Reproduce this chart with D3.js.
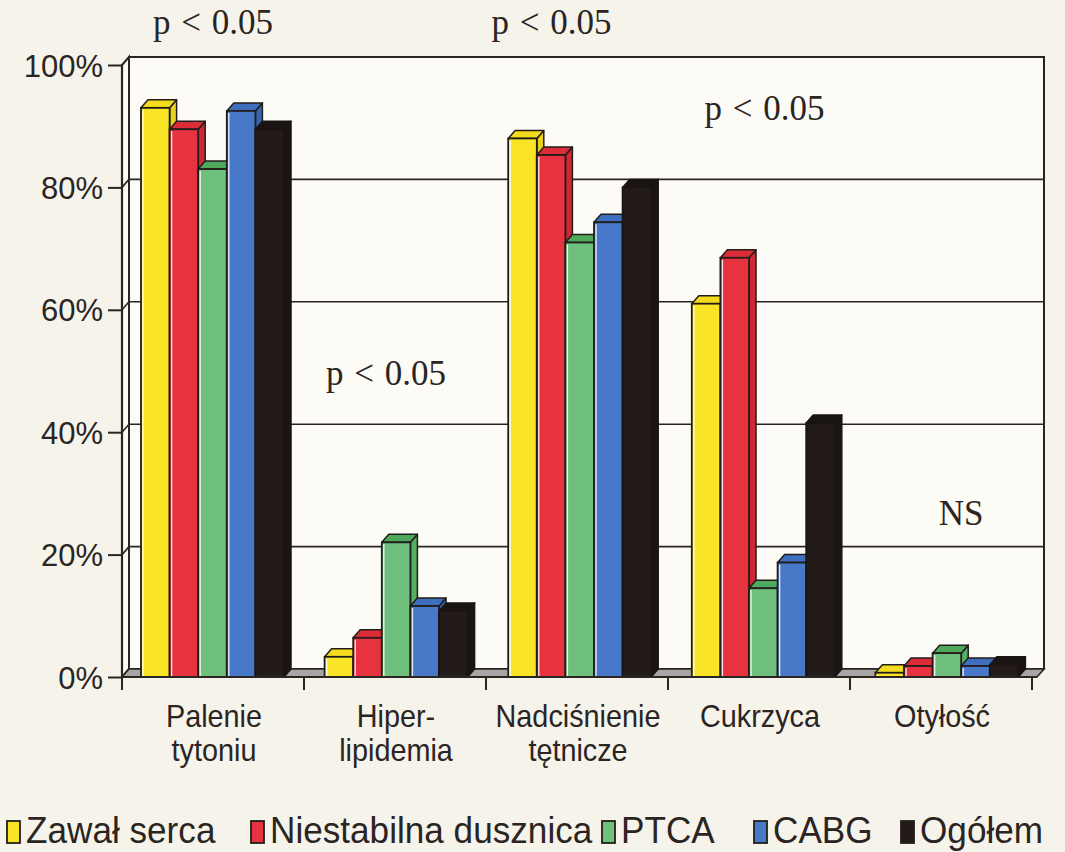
<!DOCTYPE html>
<html>
<head>
<meta charset="utf-8">
<script src="https://cdn.jsdelivr.net/npm/d3@7/dist/d3.min.js"></script>
<style>
  html, body { margin: 0; padding: 0; background: #f6f3eb; }
  svg { display: block; }
</style>
</head>
<body>
<svg id="chart" width="1065" height="852"></svg>
<script>
// Risk factors by patient group (percent of patients)
const categories = [["Palenie", "tytoniu"], ["Hiper-", "lipidemia"], ["Nadciśnienie", "tętnicze"], ["Cukrzyca"], ["Otyłość"]];
const seriesNames = ["Zawał serca", "Niestabilna dusznica", "PTCA", "CABG", "Ogółem"];
const zawal       = [93, 3.3, 88, 61, 0.7];
const niestabilna = [89.5, 6.4, 85.3, 68.5, 1.8];
const ptca        = [83, 22, 71, 14.5, 3.9];
const cabg        = [92.5, 11.6, 74.3, 18.7, 1.8];
const ogolem      = [89.5, 10.8, 80, 41.5, 2.0];
const seriesValues = [zawal, niestabilna, ptca, cabg, ogolem];
const yTicks = [0, 20, 40, 60, 80, 100];
const tickLabels = ["0%", "20%", "40%", "60%", "80%", "100%"];
// significance notes: position along the category axis (in category units) and value height
const significance = [
  { text: "p < 0.05", cat: 0.0, v: 105 },
  { text: "p < 0.05", cat: 1.86, v: 105 },
  { text: "p < 0.05", cat: 3.03, v: 91 },
  { text: "p < 0.05", cat: 0.95, v: 47.7 },
  { text: "NS", cat: 4.11, v: 24.8 }
];

const colors = ["#f9e526", "#e7333f", "#6fc07c", "#4879c9", "#221b19"];
const topColors = ["#f3dc1e", "#dc2c38", "#4fa95d", "#3e6fbf", "#1a1412"];
const sideColors = ["#e8d11c", "#d02734", "#55ae63", "#3766b3", "#1a1412"];

const svg = d3.select("#chart");
const dx = 7, dy = -8;           // depth offset of the 3D box
const x0 = 122, x1 = 1032, xEnd = 1037;
const ink = "#2a2522";
const yScale = d3.scaleLinear().domain([0, 100]).range([677, 65]);
const xCat = d3.scaleBand().domain(d3.range(categories.length)).range([x0, x1]);
const xGroup = d3.scaleBand().domain(d3.range(categories.length)).range([x0, 1040]);
const barW = 28.6, barOffset = 19;

const g = svg.append("g");

// back wall
g.append("rect")
  .attr("x", x0 + dx).attr("y", yScale(100) + dy)
  .attr("width", xEnd - x0).attr("height", yScale(0) - yScale(100))
  .attr("fill", "#fcfbf6").attr("stroke", ink).attr("stroke-width", 2);
// left side wall
g.append("path")
  .attr("d", `M${x0},${yScale(0)}L${x0},${yScale(100)}L${x0 + dx},${yScale(100) + dy}L${x0 + dx},${yScale(0) + dy}Z`)
  .attr("fill", "#fcfbf6").attr("stroke", ink).attr("stroke-width", 2);

// gridlines on the walls
yTicks.slice(1, -1).forEach(t => {
  const y = yScale(t);
  g.append("path")
    .attr("d", `M${x0},${y}L${x0 + dx},${y + dy}L${xEnd + dx},${y + dy}`)
    .attr("fill", "none").attr("stroke", ink).attr("stroke-width", 1.6);
});

// floor
g.append("path")
  .attr("d", `M${x0},${yScale(0)}L${xEnd},${yScale(0)}L${xEnd + dx},${yScale(0) + dy}L${x0 + dx},${yScale(0) + dy}Z`)
  .attr("fill", "#a8a6a4").attr("stroke", ink).attr("stroke-width", 1.6);

// y axis
const yAxis = d3.axisLeft(yScale).tickValues(yTicks).tickSize(14).tickPadding(5)
  .tickFormat((d, i) => tickLabels[i]);
const ya = g.append("g").attr("transform", `translate(${x0},0)`).call(yAxis);
ya.select(".domain").attr("stroke", ink).attr("stroke-width", 2.2).attr("d", `M0,${yScale(0)}V${yScale(100)}`);
ya.selectAll(".tick line").attr("stroke", ink).attr("stroke-width", 2);
ya.selectAll(".tick text")
  .attr("font-family", "'Liberation Sans', Arial, sans-serif")
  .attr("font-size", 31).attr("fill", ink).attr("dy", "0.36em");

// bars, drawn left to right so each bar hides its neighbour's side face
categories.forEach((c, ci) => {
  seriesValues.forEach((vals, si) => {
    const v = vals[ci];
    const xb = xGroup(ci) + barOffset + si * barW;
    const yt = yScale(v), yb = yScale(0);
    const stroke = si === 4 ? "#1a1412" : "#221d1a";
    const bar = g.append("g");
    bar.append("path")
      .attr("d", `M${xb + barW},${yt}L${xb + barW + dx},${yt + dy}L${xb + barW + dx},${yb + dy}L${xb + barW},${yb}Z`)
      .attr("fill", sideColors[si]).attr("stroke", stroke).attr("stroke-width", 1.5).attr("stroke-linejoin", "round");
    bar.append("path")
      .attr("d", `M${xb},${yt}L${xb + barW},${yt}L${xb + barW + dx},${yt + dy}L${xb + dx},${yt + dy}Z`)
      .attr("fill", topColors[si]).attr("stroke", stroke).attr("stroke-width", 1.5).attr("stroke-linejoin", "round");
    bar.append("rect")
      .attr("x", xb).attr("y", yt).attr("width", barW).attr("height", yb - yt)
      .attr("fill", colors[si]).attr("stroke", stroke).attr("stroke-width", 1.8);
    if (si !== 4 && yb - yt > 4) {
      bar.append("line")
        .attr("x1", xb + 2).attr("x2", xb + 2).attr("y1", yt + 2).attr("y2", yb - 1)
        .attr("stroke", "#ffffff").attr("stroke-width", 1.4).attr("opacity", 0.85);
    }
  });
});

// front floor edge and category ticks
g.append("line").attr("x1", x0).attr("x2", xEnd).attr("y1", yScale(0)).attr("y2", yScale(0))
  .attr("stroke", ink).attr("stroke-width", 2.2);
d3.range(categories.length + 1).forEach(i => {
  const x = x0 + i * xCat.bandwidth();
  g.append("line").attr("x1", x).attr("x2", x).attr("y1", yScale(0)).attr("y2", yScale(0) + 13)
    .attr("stroke", ink).attr("stroke-width", 2);
});

// category labels
categories.forEach((lines, ci) => {
  const cx = xCat(ci) + xCat.bandwidth() / 2 + 1;
  lines.forEach((line, li) => {
    g.append("text")
      .attr("transform", `translate(${cx},${727 + li * 34}) scale(0.9,1)`)
      .attr("text-anchor", "middle")
      .attr("font-family", "'Liberation Sans', Arial, sans-serif")
      .attr("font-size", 32).attr("fill", ink)
      .text(line);
  });
});

// significance notes
significance.forEach(s => {
  const cx = x0 + (s.cat + 0.5) * xCat.bandwidth();
  g.append("text")
    .attr("x", cx).attr("y", yScale(s.v))
    .attr("text-anchor", "middle")
    .attr("font-family", "'Liberation Serif', 'Times New Roman', serif")
    .attr("font-size", 35).attr("word-spacing", 2).attr("fill", ink)
    .text(s.text);
});

// legend
const legendX = [7, 251, 602, 754, 901];
const legend = g.append("g");
seriesNames.forEach((name, i) => {
  legend.append("rect")
    .attr("x", legendX[i]).attr("y", 821).attr("width", 13).attr("height", 22)
    .attr("fill", colors[i]).attr("stroke", "#221d1a").attr("stroke-width", 1.8);
  legend.append("text")
    .attr("transform", `translate(${legendX[i] + 19},843) scale(0.95,1)`)
    .attr("font-family", "'Liberation Sans', Arial, sans-serif")
    .attr("font-size", 37).attr("fill", ink)
    .text(name);
});
</script>
</body>
</html>
